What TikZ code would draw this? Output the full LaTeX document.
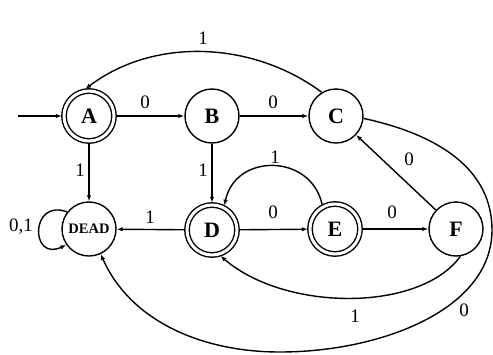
\documentclass[tikz,border=0pt]{standalone}
\usepackage{fontspec}
\setmainfont{Liberation Serif}
\usetikzlibrary{arrows.meta}
\begin{document}
\begin{tikzpicture}[x=1pt,y=-1pt,
  every path/.style={line width=1.4pt},
  st/.style={circle,draw,line width=1.4pt,minimum size=54pt,inner sep=0pt,
    font=\fontsize{22}{22}\selectfont\bfseries},
  acc/.style={st,minimum size=50pt,double,double distance=3pt,outer sep=2.2pt},
  dead/.style={st,font=\fontsize{14.5}{14.5}\selectfont\bfseries},
  lbl/.style={font=\fontsize{19}{19}\selectfont,inner sep=0pt},
  arr/.style={-{Latex[length=6pt,width=4.5pt]},line width=1.4pt}]
\useasboundingbox (0,0) rectangle (493,354);
\node[acc] (A) at (89,116) {A};
\node[st] (B) at (212,116) {B};
\node[st] (C) at (336,116) {C};
\node[dead] (DEAD) at (89,229) {DEAD};
\node[acc] (D) at (212,230) {D};
\node[acc] (E) at (335,229) {E};
\node[st] (F) at (456,229) {F};
\coordinate (start) at (18,116);

\draw[arr] (start) -- (A);
\draw[arr] (A) -- (B);
\draw[arr] (B) -- (C);
\draw[arr] (A) -- (DEAD);
\draw[arr] (B) -- (D);
\draw[arr] (D) -- (DEAD);
\draw[arr] (D) -- (E);
\draw[arr] (E) -- (F);
\draw[arr] (F) -- (C);
\draw[arr] (C.121) .. controls (252.6,41) and (154,37) .. (A.98);
\draw[arr] (E.118) .. controls (311.5,153.5) and (235.5,152.5) .. (D.63);
\draw[arr] (F.-81) .. controls (420,312) and (286,312) .. (D.-72);
\draw[arr] (C.-5) .. controls (440,135) and (492,170) .. (492,230)
  .. controls (492,310) and (380,352) .. (280,352)
  .. controls (200,352) and (130,320) .. (DEAD.-65);
\draw[arr] (DEAD.142) .. controls (30,198) and (30,262) .. (DEAD.215);

\node[lbl] (l1) at (145,102) {0};
\node[lbl] (l2) at (273,102) {0};
\node[lbl] (l3) at (80,170) {1};
\node[lbl] (l4) at (203,170) {1};
\node[lbl] (l5) at (150,217) {1};
\node[lbl] (l6) at (273,212) {0};
\node[lbl] (l7) at (392,212) {0};
\node[lbl] (l8) at (409,159) {0};
\node[lbl] (l9) at (275,157) {1};
\node[lbl] (l10) at (203,38) {1};
\node[lbl] (l11) at (355,316) {1};
\node[lbl] (l12) at (464,310) {0};
\node[lbl] (l13) at (21,227) {0,1};
\end{tikzpicture}
\end{document}
